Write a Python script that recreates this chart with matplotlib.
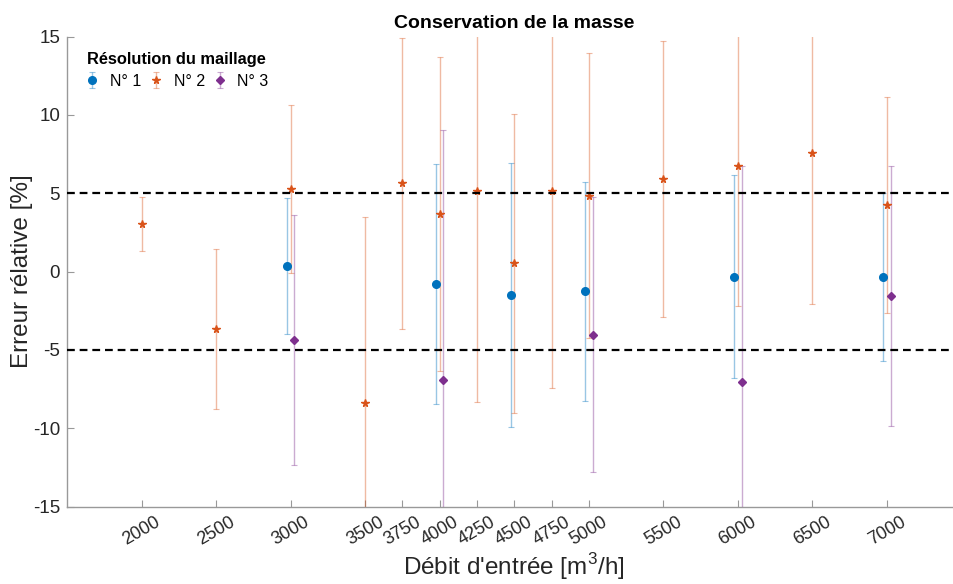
import matplotlib
matplotlib.use("Agg")
import matplotlib.pyplot as plt

# flow rates [m3/h] and relative error [%] with half-width of error bars
x_n1 = [3000, 4000, 4500, 5000, 6000, 7000]
err_n1 = [0.38, -0.79, -1.49, -1.25, -0.32, -0.36]
ci_n1 = [4.35, 7.67, 8.45, 7.0, 6.48, 5.38]

x_n2 = [2000, 2500, 3000, 3500, 3750, 4000, 4250, 4500, 4750, 5000, 5500, 6000, 6500, 7000]
err_n2 = [3.05, -3.65, 5.27, -8.38, 5.63, 3.68, 5.12, 0.53, 5.17, 4.85, 5.91, 6.72, 7.57, 4.25]
ci_n2 = [1.72, 5.1, 5.35, 11.84, 9.3, 10.05, 13.47, 9.55, 12.6, 9.1, 8.82, 8.9, 9.63, 6.9]

x_n3 = [3000, 4000, 5000, 6000, 7000]
err_n3 = [-4.36, -6.91, -4.02, -7.02, -1.57]
ci_n3 = [8.0, 15.97, 8.76, 13.74, 8.3]

xticks = [2000, 2500, 3000, 3500, 3750, 4000, 4250, 4500, 4750, 5000, 5500, 6000, 6500, 7000]
yticks = [-15, -10, -5, 0, 5, 10, 15]
limits = [-5, 5]

plt.rcParams["font.family"] = ["Liberation Sans", "DejaVu Sans"]
plt.rcParams["mathtext.fontset"] = "custom"
plt.rcParams["mathtext.rm"] = "Liberation Sans"

fig = plt.figure(figsize=(9.54, 5.84), dpi=100)
# right edge runs slightly past the canvas, like the cropped original
ax = fig.add_axes([0.0702, 0.1327, 0.9377, 0.8045])

series = [
    ("N° 1", x_n1, err_n1, ci_n1, "#0072BD", "o", 5.5, -25),
    ("N° 2", x_n2, err_n2, ci_n2, "#D95319", "*", 5.5, 0),
    ("N° 3", x_n3, err_n3, ci_n3, "#7E2F8E", "D", 4.0, 25),
]
for label, xs, ys, es, color, marker, ms, shift in series:
    eb = ax.errorbar([x + shift for x in xs], ys, yerr=es, fmt=marker, color=color,
                     ms=ms, mec=color, mfc=color, ecolor=color, elinewidth=1.0,
                     capsize=2.5, capthick=0.8, label=label, zorder=3)
    for part in eb[1] + eb[2]:
        part.set_alpha(0.4)

for yl in limits:
    ax.axhline(yl, color="black", lw=1.6, dashes=(3.5, 2.2), zorder=4)

ax.set_xlim(1500, 7500)
ax.set_ylim(-15, 15)
ax.set_xticks(xticks)
ax.set_xticklabels([str(t) for t in xticks], rotation=30, fontsize=13)
ax.set_yticks(yticks)
ax.set_yticklabels([str(t) for t in yticks], fontsize=13.5)
ax.tick_params(direction="in", length=5, color="#999999", labelcolor="#262626", pad=5)
for side in ["top", "right"]:
    ax.spines[side].set_visible(False)
for side in ["left", "bottom"]:
    ax.spines[side].set_color("#999999")
    ax.spines[side].set_linewidth(1.0)

ax.set_xlabel("Débit d'entrée [m$^3$/h]", fontsize=17.5, color="#262626")
ax.set_ylabel("Erreur rélative [%]", fontsize=17.5, color="#262626")
ax.xaxis.set_label_coords(0.5, -0.095)
ax.yaxis.set_label_coords(-0.038, 0.5)
ax.set_title("Conservation de la masse", fontsize=14, fontweight="bold", pad=6)

leg = ax.legend(title="Résolution du maillage", ncol=3, loc="upper left",
                bbox_to_anchor=(0.019, 0.968), frameon=False, fontsize=11.5,
                handletextpad=0.6, columnspacing=0.45, handlelength=1.0,
                labelspacing=0.45, borderpad=0, borderaxespad=0)
leg.get_title().set_fontweight("bold")
leg.get_title().set_fontsize(11.8)

fig.savefig("out.png", dpi=100, facecolor="white")
